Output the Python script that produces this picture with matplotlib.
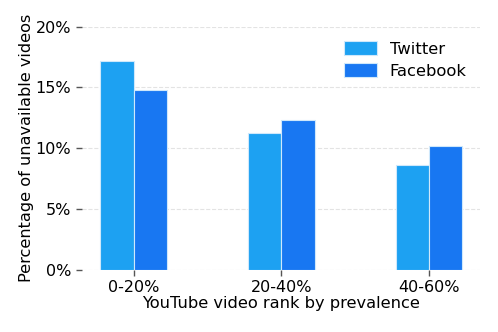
import numpy as np
import matplotlib.pyplot as plt
from matplotlib.ticker import FuncFormatter

categories = ["0-20%", "20-40%", "40-60%"]
twitter = [17.2, 11.2, 8.6]
facebook = [14.8, 12.3, 10.2]

fig = plt.figure(figsize=(4.98, 3.32), dpi=100)
ax = fig.add_axes([0.164, 0.188, 0.8, 0.732])

x = np.arange(len(categories))
w = 0.225
ax.bar(x - w / 2, twitter, w, color="#1DA1F2", edgecolor="#cfe8fb", linewidth=0.8, label="Twitter", zorder=3)
ax.bar(x + w / 2, facebook, w, color="#1877F2", edgecolor="#cfe8fb", linewidth=0.8, label="Facebook", zorder=3)

ax.set_xlim(-0.352, 2.345)
ax.set_ylim(0, 20)
ax.set_yticks([0, 5, 10, 15, 20])
ax.yaxis.set_major_formatter(FuncFormatter(lambda v, p: "%d%%" % v))
ax.set_xticks(x)
ax.set_xticklabels(categories)
ax.tick_params(axis="both", labelsize=11.5, colors="#555555", labelcolor="black", length=4, width=1)
ax.grid(axis="y", linestyle="--", color="#e3e3e3", linewidth=0.8, zorder=0)
for s in ax.spines.values():
    s.set_visible(False)

ax.set_ylabel("Percentage of unavailable videos", fontsize=11.6, labelpad=1.5)
ax.set_xlabel("YouTube video rank by prevalence", fontsize=11.7, labelpad=1)
ax.legend(loc="upper right", frameon=False, fontsize=11.8, bbox_to_anchor=(1.003, 1.0),
          handlelength=2.0, handleheight=0.9, handletextpad=0.75, labelspacing=0.4)

plt.savefig("out.png")
